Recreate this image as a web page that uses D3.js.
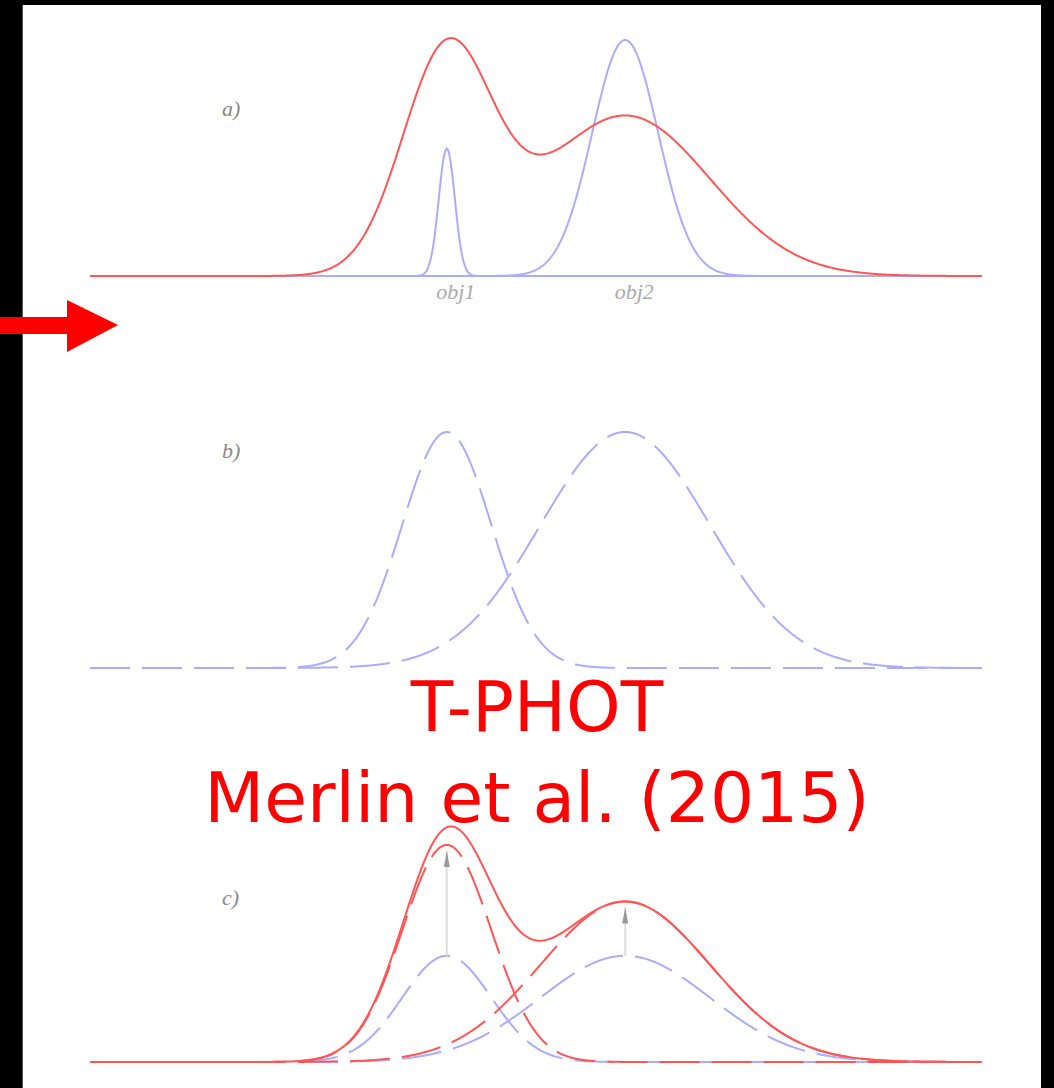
<!DOCTYPE html>
<html>
<head>
<meta charset="utf-8">
<script src="https://cdn.jsdelivr.net/npm/d3@7"></script>
<style>
  html, body { margin: 0; background: #000; }
  svg { display: block; }
</style>
</head>
<body>
<div id="chart"></div>
<script>
// Objects and profile parameters (x in arbitrary units 0-100, heights relative to 1)
const objNames = ["obj1", "obj2"];
const objCenters = [40, 60];
const hiresSigma = [0.9, 3.7];      // high-res priors (panel a, blue)
const hiresAmp = [0.54, 1.0];
const loresSigma = [5.0, 9.5];      // low-res templates
const measuredAmp = [0.93, 0.68];   // measured low-res image (panel a, red)
const templateAmp = [1.0, 1.0];     // normalised templates (panel b)
const initialAmp = [0.45, 0.45];    // templates before fit (panel c, blue)
const fittedAmp = [0.92, 0.68];     // fitted templates (panel c, red)
const panelLabels = ["a)", "b)", "c)"];
const titleLines = ["T-PHOT", "Merlin et al. (2015)"];

const W = 1054, H = 1088;
const red = "rgb(255,85,85)", blue = "rgb(172,172,255)";

const svg = d3.select("#chart").append("svg")
    .attr("width", W).attr("height", H);

// white page inside the black frame
svg.append("rect").attr("x", 22).attr("y", 5).attr("width", 1019).attr("height", H - 5).attr("fill", "#fff");
svg.append("line").attr("x1", 22.5).attr("x2", 22.5).attr("y1", 5).attr("y2", H).attr("stroke", "#555");

const x = d3.scaleLinear().domain([0, 100]).range([90, 982]);
const xs = d3.range(0, 100.001, 0.1);

const gauss = (t, c, s, a) => a * Math.exp(-((t - c) * (t - c)) / (2 * s * s));

function panelScale(base) {
    return d3.scaleLinear().domain([0, 1]).range([base, base - 236]);
}

function drawProfile(g, y, fn, color, dashed) {
    const line = d3.line().x(d => x(d[0])).y(d => y(d[1]));
    g.append("path")
        .datum(xs.map(t => [t, fn(t)]))
        .attr("d", line)
        .attr("fill", "none")
        .attr("stroke", color)
        .attr("stroke-width", 2)
        .attr("stroke-dasharray", dashed ? "40,12" : null);
}

const bases = [276, 668, 1062];
const labelY = [116, 458, 905];

// panel a
const ya = panelScale(bases[0]);
const ga = svg.append("g");
objCenters.forEach((c, i) => drawProfile(ga, ya, t => gauss(t, c, hiresSigma[i], hiresAmp[i]), blue, false));
drawProfile(ga, ya, t => d3.sum(objCenters, (c, i) => gauss(t, c, loresSigma[i], measuredAmp[i])), red, false);
ga.selectAll(".obj").data(objNames).enter().append("text")
    .attr("x", (d, i) => x(objCenters[i]) + 9)
    .attr("y", 299)
    .attr("text-anchor", "middle")
    .attr("font-family", "Liberation Serif")
    .attr("font-style", "italic")
    .attr("font-size", 22)
    .attr("fill", "#aaa")
    .text(d => d);

// panel b
const yb = panelScale(bases[1]);
const gb = svg.append("g");
objCenters.forEach((c, i) => drawProfile(gb, yb, t => gauss(t, c, loresSigma[i], templateAmp[i]), blue, true));

// panel c
const yc = panelScale(bases[2]);
const gc = svg.append("g");
objCenters.forEach((c, i) => drawProfile(gc, yc, t => gauss(t, c, loresSigma[i], initialAmp[i]), blue, true));
objCenters.forEach((c, i) => drawProfile(gc, yc, t => gauss(t, c, loresSigma[i], fittedAmp[i]), red, true));
drawProfile(gc, yc, t => d3.sum(objCenters, (c, i) => gauss(t, c, loresSigma[i], fittedAmp[i])), red, false);

// scaling arrows
objCenters.forEach((c, i) => {
    const x0 = x(c), yTop = yc(fittedAmp[i]) + 6, yBot = yc(initialAmp[i]);
    gc.append("line").attr("x1", x0).attr("x2", x0).attr("y1", yBot).attr("y2", yTop)
        .attr("stroke", "#ddd").attr("stroke-width", 2);
    gc.append("path")
        .attr("d", `M${x0 - 3},${yTop + 16} L${x0},${yTop} L${x0 + 3},${yTop + 16} Z`)
        .attr("fill", "#999");
});

// panel labels
svg.selectAll(".plabel").data(panelLabels).enter().append("text")
    .attr("x", 222)
    .attr("y", (d, i) => labelY[i])
    .attr("font-family", "Liberation Serif")
    .attr("font-style", "italic")
    .attr("font-size", 22)
    .attr("fill", "#888")
    .text(d => d);

// red arrow on the left
svg.append("path")
    .attr("d", "M0,317 L67,317 L67,300 L118,325 L67,352 L67,334 L0,334 Z")
    .attr("fill", "#ff0000");

// title text
svg.selectAll(".title").data(titleLines).enter().append("text")
    .attr("x", 537)
    .attr("y", (d, i) => [731, 822][i])
    .attr("text-anchor", "middle")
    .attr("font-family", "DejaVu Sans")
    .attr("font-size", 69.5)
    .attr("fill", "#ff0000")
    .text(d => d);
</script>
</body>
</html>
